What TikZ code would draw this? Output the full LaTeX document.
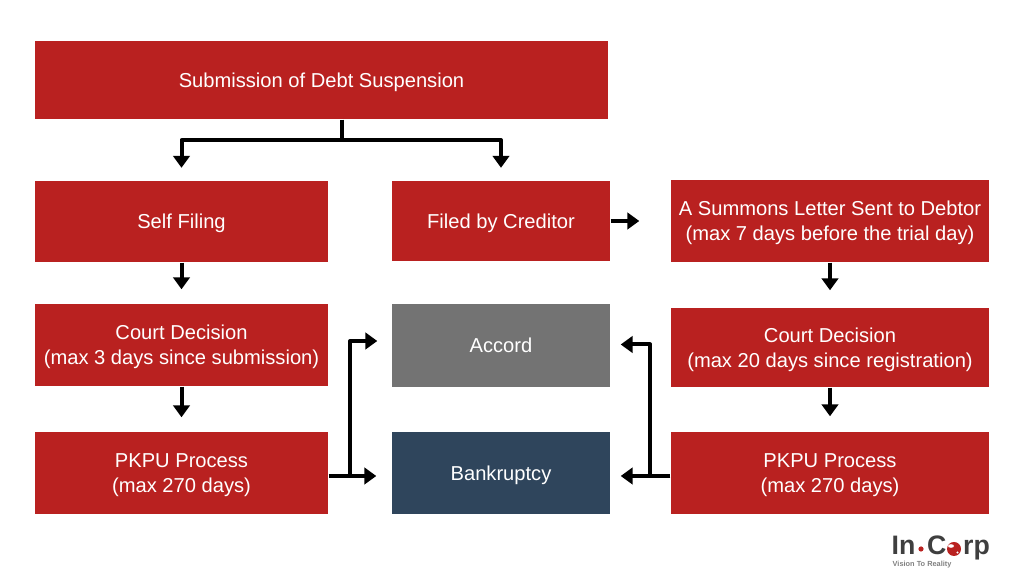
\documentclass[tikz,border=0pt]{standalone}
\usepackage{fontspec}
\setmainfont{Liberation Sans}
\usepackage[dvipsnames]{xcolor}
\usetikzlibrary{arrows.meta}
\definecolor{boxRed}{HTML}{B92120}
\definecolor{boxGray}{HTML}{737373}
\definecolor{boxNavy}{HTML}{2F455C}
\definecolor{logoGray}{HTML}{3F3F3F}
\tikzset{
  stepBox/.style={rectangle,align=center,inner sep=0mm,text=white,fill=#1,text depth=0pt,
    font=\fontsize{5.73pt}{7.1pt}\selectfont},
  stepBox/.default=boxRed,
  flow/.style={line width=0.04cm,line join=round,-{Triangle[width=0.165cm,length=0.12cm]}},
  plainFlow/.style={line width=0.04cm},
  logoText/.style={inner sep=0mm,anchor=base west,text=logoGray,font=\fontsize{7.6pt}{0}\bfseries\selectfont}
}
\begin{document}
\begin{tikzpicture}
\useasboundingbox (0,0) rectangle (10.24,5.86);

\node[stepBox,minimum width=5.73cm,minimum height=0.78cm] at (3.215,5.06) (submission) {Submission of Debt Suspension};

\node[stepBox,minimum width=2.93cm,minimum height=0.81cm] at (1.815,3.645) (selfFiling) {Self Filing};
\node[stepBox,minimum width=2.18cm,minimum height=0.80cm] at (5.01,3.65) (creditor) {Filed by Creditor};
\node[stepBox,minimum width=3.18cm,minimum height=0.82cm] at (8.30,3.65) (summons) {A Summons Letter Sent to Debtor\\(max 7 days before the trial day)};

\node[stepBox,minimum width=2.93cm,minimum height=0.82cm] at (1.815,2.41) (courtLeft) {Court Decision\\(max 3 days since submission)};
\node[stepBox=boxGray,minimum width=2.18cm,minimum height=0.83cm] at (5.01,2.405) (accord) {Accord};
\node[stepBox,minimum width=3.18cm,minimum height=0.79cm] at (8.30,2.385) (courtRight) {Court Decision\\(max 20 days since registration)};

\node[stepBox,minimum width=2.93cm,minimum height=0.82cm] at (1.815,1.13) (pkpuLeft) {PKPU Process\\(max 270 days)};
\node[stepBox=boxNavy,minimum width=2.18cm,minimum height=0.82cm] at (5.01,1.13) (bankruptcy) {Bankruptcy};
\node[stepBox,minimum width=3.18cm,minimum height=0.82cm] at (8.30,1.13) (pkpuRight) {PKPU Process\\(max 270 days)};

% split under the top box
\coordinate (split) at (3.42,4.46);
\draw[plainFlow] (submission.south -| split) -- (split);
\draw[flow,shorten >=0.125cm] (split) -| (selfFiling.north);
\draw[flow,shorten >=0.125cm] (split) -| (creditor.north);

\draw[flow,shorten >=0.14cm] (selfFiling) -- (courtLeft);
\draw[flow,shorten >=0.14cm] (courtLeft) -- (pkpuLeft);
\draw[flow,shorten >=0.31cm] (creditor) -- (summons);
\draw[flow,shorten >=0.17cm] (summons) -- (courtRight);
\draw[flow,shorten >=0.15cm] (courtRight) -- (pkpuRight);

% outcome lines
\coordinate (leftJoin) at (3.50,1.10);
\coordinate (leftTop) at (3.50,2.45);
\draw[flow,shorten >=0.15cm] (pkpuLeft.east |- leftJoin) -- (bankruptcy.west |- leftJoin);
\draw[flow,shorten >=0.14cm] (leftJoin) -- (leftTop) -- (accord.west |- leftTop);

\coordinate (rightJoin) at (6.50,1.10);
\coordinate (rightTop) at (6.50,2.415);
\draw[flow,shorten >=0.10cm] (pkpuRight.west |- rightJoin) -- (bankruptcy.east |- rightJoin);
\draw[flow,shorten >=0.10cm] (rightJoin) -- (rightTop) -- (accord.east |- rightTop);

% logo
\node[logoText] at (8.91,0.31) (logoIn) {In};
\fill[boxRed] (9.21,0.37) circle (0.026cm);
\node[logoText] at (9.265,0.31) (logoC) {C};
\fill[boxRed] (9.54,0.37) circle (0.07cm);
\fill[white] (9.51,0.40) ellipse (0.03cm and 0.018cm);
\fill[white] (9.575,0.335) circle (0.012cm);
\node[logoText] at (9.625,0.31) (logoRp) {rp};
\node[inner sep=0mm,anchor=base west,text=gray,font=\fontsize{2.1pt}{0}\bfseries\selectfont] at (8.92,0.19) (logoTag) {Vision To Reality};
\end{tikzpicture}
\end{document}
